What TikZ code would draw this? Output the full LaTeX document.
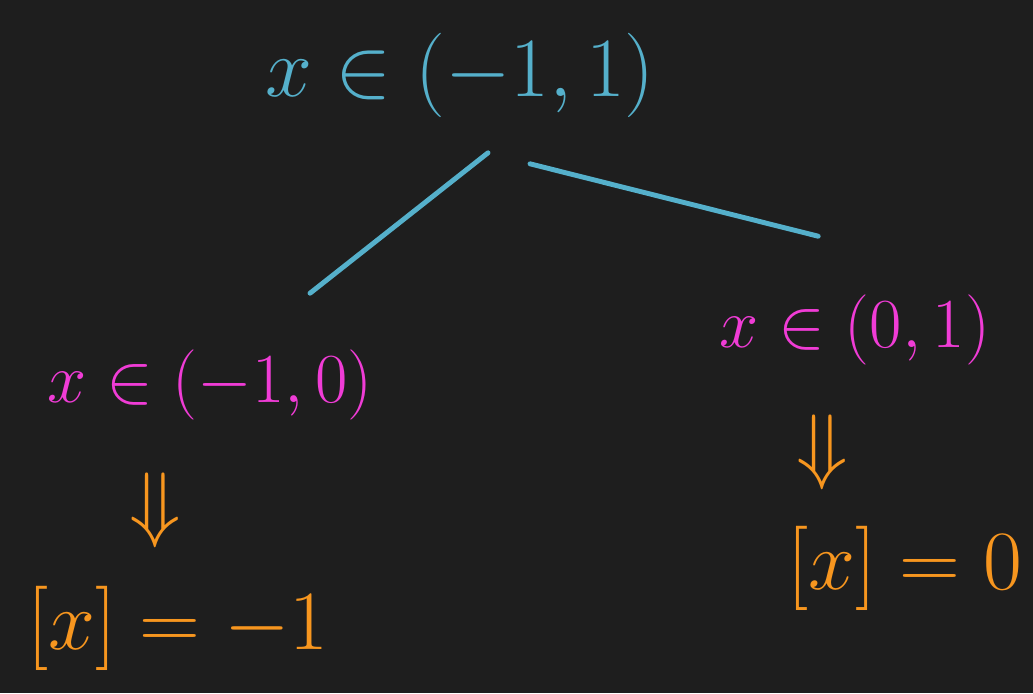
\documentclass[tikz,border=0pt]{standalone}
\usepackage{fix-cm}
\usepackage{tikz}
\usetikzlibrary{positioning,calc}
\definecolor{board}{HTML}{1E1E1E}
\definecolor{chalkcyan}{HTML}{55B0CB}
\definecolor{chalkpink}{HTML}{F03CD6}
\definecolor{chalkorange}{HTML}{F7961F}
\tikzset{
  root/.style={text=chalkcyan, font=\fontsize{60}{66}\selectfont, inner sep=1pt},
  part/.style={text=chalkpink, font=\fontsize{50}{56}\selectfont, inner sep=1pt},
  floor/.style={text=chalkorange, font=\fontsize{60}{66}\selectfont, inner sep=1pt},
  link/.style={chalkcyan, line width=3.5pt, line cap=round}}

\begin{document}
\begin{tikzpicture}[x=0.025cm, y=-0.025cm]
\fill[board] (0,0) rectangle (1033,693);
\useasboundingbox (0,0) rectangle (1033,693);
\node[root] (top) at (460,75) {$x\in(-1,1)$};
\node[part] (left) at (210,385) {$x\in(-1,0)$};
\node[part] (right) at (855,330) {$x\in(0,1)$};
\node[floor] (ldown) at (155,510) {$\Downarrow$};
\node[floor] (rdown) at (822,452) {$\Downarrow$};
\node[floor] (lres) at (178,628) {$[x]=-1$};
\node[floor] (rres) at (905,568) {$[x]=0$};
\draw[link] ([xshift=0.7cm,yshift=-0.85cm]top.south) -- ([xshift=2.5cm,yshift=1.375cm]left.north);
\draw[link] ([xshift=1.75cm,yshift=-1.125cm]top.south) -- ([xshift=-0.92cm,yshift=1.425cm]right.north);
\end{tikzpicture}
\end{document}
